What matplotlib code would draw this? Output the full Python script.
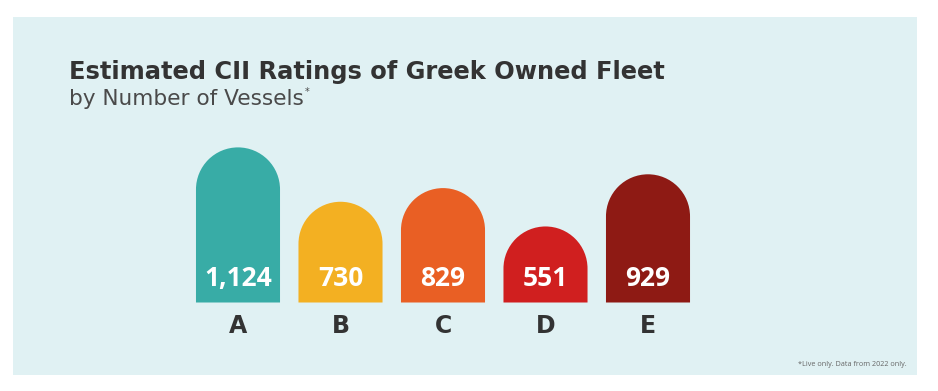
import matplotlib
matplotlib.use("Agg")
import matplotlib.pyplot as plt
import matplotlib.patches as mpatches
from matplotlib.path import Path
import numpy as np

# ── Data ──────────────────────────────────────────────────────────────────────
ratings = ["A", "B", "C", "D", "E"]
vessels = [1124, 730, 829, 551, 929]
colors = ["#38aca6", "#f3b022", "#e95f24", "#d01f1f", "#8e1a14"]

TITLE = "Estimated CII Ratings of Greek Owned Fleet"
SUBTITLE = "by Number of Vessels"
FOOTNOTE = "*Live only. Data from 2022 only."

PANEL = "#e0f1f3"
DARK = "#333333"
FONT = "Open Sans"
HEAD = "DejaVu Sans"

W, H = 938, 391
fig = plt.figure(figsize=(W / 100, H / 100), dpi=100, facecolor="white")

# light panel behind everything
fig.patches.append(mpatches.Rectangle((13 / W, 16 / H), 904 / W, 358 / H,
                                      transform=fig.transFigure,
                                      facecolor=PANEL, edgecolor="none", zorder=-10))

# bar axes: 102.5 px per category, bottom at y=302.5 px
ax = fig.add_axes([186.75 / W, 88.5 / H, 512.5 / W, 179.4 / H])
ax.set_xlim(-0.5, 4.5)
ax.set_ylim(0, 1300)
ax.set_facecolor("none")
ax.set_zorder(5)
for s in ax.spines.values():
    s.set_visible(False)

half_w = 0.41
# radius in data units so the cap is a true semicircle on screen
px_x = 512.5 / 5
px_y = 179.4 / 1300
ry = half_w * px_x / px_y

arc = Path.arc(0, 180)
for i, (v, c) in enumerate(zip(vessels, colors)):
    top = v - ry
    verts = [(i - half_w, 0), (i + half_w, 0), (i + half_w, top)]
    codes = [Path.MOVETO, Path.LINETO, Path.LINETO]
    verts += [(i + x * half_w, top + y * ry) for x, y in arc.vertices[1:]]
    codes += list(arc.codes[1:])
    verts += [(i - half_w, 0)]
    codes += [Path.CLOSEPOLY]
    ax.add_patch(mpatches.PathPatch(Path(verts, codes), facecolor=c, edgecolor="none"))
    ax.annotate(f"{v:,}", xy=(i, 0), xytext=(0, 11.9), textcoords="offset points",
                ha="center", va="baseline", color="white", fontsize=19,
                fontweight="bold", family=FONT)

ax.set_xticks(range(len(ratings)), ratings)
ax.tick_params(axis="x", length=0, pad=22, labelsize=17, labelcolor=DARK)
for lab in ax.get_xticklabels():
    lab.set_va("baseline")
    lab.set_fontweight("bold")
    lab.set_family(HEAD)
ax.set_yticks([])

# titles
fig.text(69 / W, 1 - 78.5 / H, TITLE, fontsize=17.4, fontweight="bold",
         color=DARK, family=HEAD, va="baseline")
sub = fig.text(69 / W, 1 - 105 / H, SUBTITLE, fontsize=15.6, color="#4a4a4a",
               family=HEAD, va="baseline")
fig.canvas.draw()
bb = sub.get_window_extent()
fig.text(bb.x1 / W + 1 / W, 1 - 95 / H, "*", fontsize=7, color="#4a4a4a",
         family=HEAD, va="baseline")

fig.text(907 / W, 1 - 366 / H, FOOTNOTE, fontsize=5.2, color="#666666",
         family=FONT, ha="right", va="baseline")

fig.savefig("out.png", dpi=100, facecolor="white")
